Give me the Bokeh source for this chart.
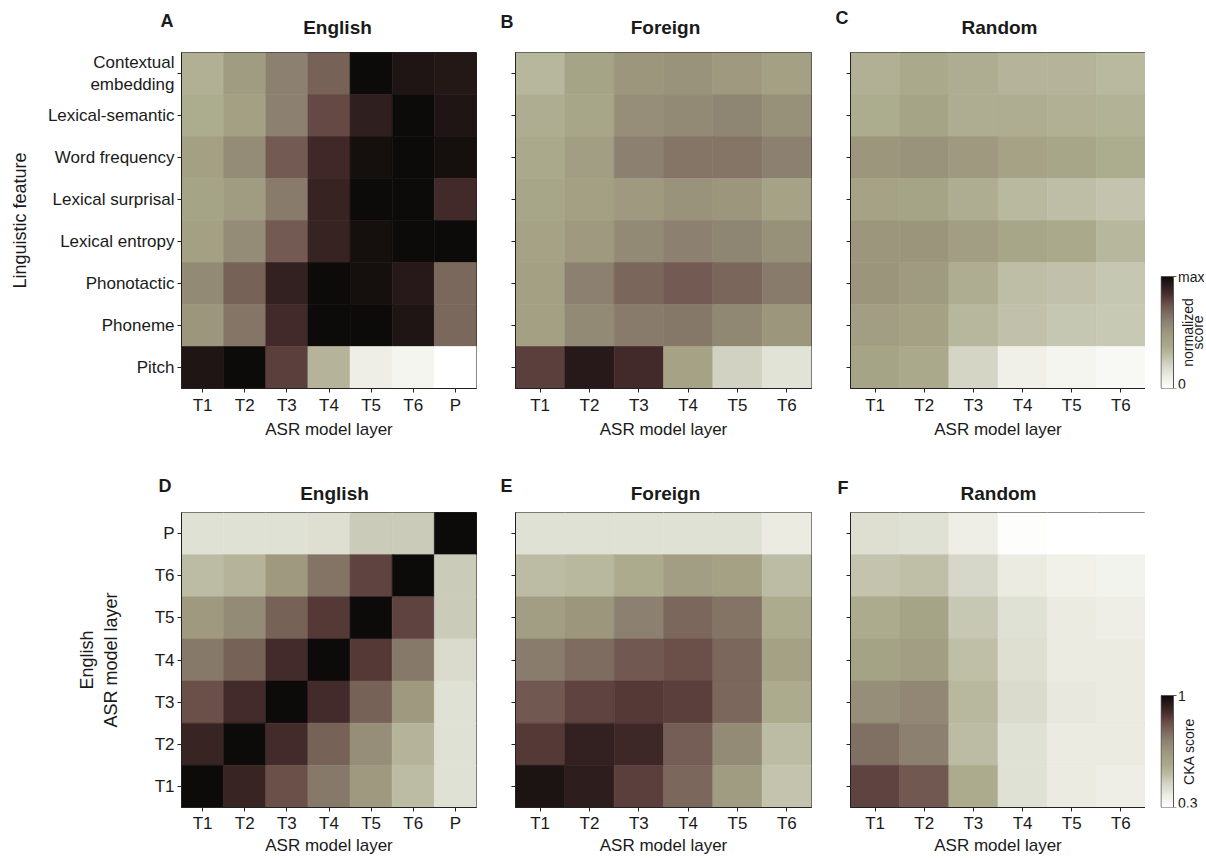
import math
import numpy as np
from bokeh.plotting import figure
from bokeh.layouts import row, column
from bokeh.models import LinearColorMapper, ColumnDataSource, FixedTicker, Range1d
from bokeh.core.properties import value
from bokeh.transform import transform
from bokeh.embed import file_html
from bokeh.resources import INLINE

# ---------------- data ----------------
FEATURES = ["Contextual\nembedding", "Lexical-semantic", "Word frequency", "Lexical surprisal",
            "Lexical entropy", "Phonotactic", "Phoneme", "Pitch"]          # top -> bottom
LAYERS_EN = ["T1", "T2", "T3", "T4", "T5", "T6", "P"]
LAYERS_6 = ["T1", "T2", "T3", "T4", "T5", "T6"]
CKA_ROWS_EN = ["P", "T6", "T5", "T4", "T3", "T2", "T1"]                       # top -> bottom
PANEL_TITLES = ["English", "Foreign", "Random"]
PANEL_LETTERS_TOP = ["A", "B", "C"]
PANEL_LETTERS_BOTTOM = ["D", "E", "F"]

FEAT_ENGLISH = [
    [0.35, 0.47, 0.60, 0.70, 1.00, 0.95, 0.94],
    [0.37, 0.45, 0.60, 0.77, 0.91, 1.00, 0.95],
    [0.45, 0.55, 0.72, 0.87, 0.98, 1.00, 0.98],
    [0.42, 0.47, 0.62, 0.89, 1.00, 1.00, 0.86],
    [0.45, 0.55, 0.72, 0.89, 0.98, 1.00, 1.00],
    [0.56, 0.70, 0.90, 1.00, 0.98, 0.93, 0.68],
    [0.50, 0.64, 0.86, 1.00, 1.00, 0.95, 0.68],
    [0.95, 1.00, 0.80, 0.33, 0.10, 0.06, 0.00],
]
FEAT_FOREIGN = [
    [0.32, 0.42, 0.50, 0.52, 0.49, 0.45],
    [0.36, 0.40, 0.54, 0.56, 0.58, 0.53],
    [0.38, 0.46, 0.60, 0.64, 0.64, 0.60],
    [0.40, 0.45, 0.49, 0.52, 0.50, 0.43],
    [0.43, 0.49, 0.56, 0.60, 0.58, 0.53],
    [0.45, 0.60, 0.69, 0.72, 0.69, 0.62],
    [0.45, 0.56, 0.62, 0.63, 0.57, 0.50],
    [0.80, 0.93, 0.86, 0.43, 0.22, 0.15],
]
FEAT_RANDOM = [
    [0.35, 0.38, 0.36, 0.33, 0.33, 0.31],
    [0.37, 0.42, 0.36, 0.36, 0.35, 0.34],
    [0.50, 0.52, 0.49, 0.43, 0.40, 0.37],
    [0.43, 0.42, 0.36, 0.31, 0.29, 0.27],
    [0.50, 0.51, 0.46, 0.40, 0.38, 0.32],
    [0.51, 0.48, 0.36, 0.29, 0.28, 0.26],
    [0.46, 0.44, 0.32, 0.28, 0.26, 0.25],
    [0.42, 0.38, 0.21, 0.09, 0.06, 0.04],
]
CKA_ENGLISH = [
    [0.41, 0.41, 0.41, 0.42, 0.47, 0.47, 1.00],
    [0.51, 0.53, 0.64, 0.75, 0.85, 1.00, 0.47],
    [0.64, 0.69, 0.79, 0.87, 1.00, 0.85, 0.47],
    [0.74, 0.79, 0.90, 1.00, 0.87, 0.74, 0.43],
    [0.83, 0.90, 1.00, 0.90, 0.79, 0.64, 0.41],
    [0.92, 1.00, 0.90, 0.79, 0.68, 0.53, 0.41],
    [1.00, 0.92, 0.83, 0.74, 0.64, 0.51, 0.41],
]
CKA_FOREIGN = [
    [0.41, 0.41, 0.41, 0.41, 0.41, 0.38],
    [0.51, 0.52, 0.56, 0.62, 0.61, 0.51],
    [0.62, 0.65, 0.72, 0.78, 0.75, 0.56],
    [0.73, 0.77, 0.81, 0.83, 0.78, 0.61],
    [0.81, 0.85, 0.87, 0.86, 0.78, 0.56],
    [0.87, 0.93, 0.91, 0.80, 0.69, 0.51],
    [0.97, 0.94, 0.86, 0.78, 0.63, 0.49],
]
CKA_RANDOM = [
    [0.42, 0.41, 0.37, 0.31, 0.30, 0.30],
    [0.49, 0.50, 0.44, 0.38, 0.36, 0.35],
    [0.56, 0.59, 0.48, 0.41, 0.38, 0.37],
    [0.60, 0.62, 0.50, 0.42, 0.38, 0.38],
    [0.68, 0.70, 0.52, 0.43, 0.39, 0.38],
    [0.76, 0.72, 0.51, 0.41, 0.38, 0.38],
    [0.85, 0.81, 0.56, 0.41, 0.38, 0.37],
]
CB_FEAT_RANGE = (0.0, 1.0)
CB_FEAT_TICK_LABELS = ["0", "max"]
CB_FEAT_TITLE = ["normalized", "score"]
CB_CKA_RANGE = (0.3, 1.0)
CB_CKA_TICK_LABELS = ["0.3", "1"]
CB_CKA_TITLE = ["CKA score"]

# ---------------- colour map ----------------
CMAP_STOPS = [0.0, 0.10, 0.20, 0.30, 0.38, 0.45, 0.52, 0.60, 0.68, 0.76, 0.84, 0.92, 1.0]
CMAP_COLORS = ["#ffffff", "#eeeee6", "#d6d7c8", "#bbbba3", "#aaa98b", "#a3a084", "#9a937b",
               "#8c8170", "#7c695e", "#6a4e48", "#4c3030", "#2c1c1c", "#0d0b0a"]


def build_palette(n=256):
    rgb = np.array([[int(c[i:i + 2], 16) for i in (1, 3, 5)] for c in CMAP_COLORS], float)
    out = []
    for tt in np.linspace(0, 1, n):
        r, g, b = (np.interp(tt, CMAP_STOPS, rgb[:, k]) for k in range(3))
        out.append("#%02x%02x%02x" % (int(round(r)), int(round(g)), int(round(b))))
    return out


PAL = build_palette()
MAP_FEAT = LinearColorMapper(palette=PAL, low=CB_FEAT_RANGE[0], high=CB_FEAT_RANGE[1])
MAP_CKA = LinearColorMapper(palette=PAL, low=CB_CKA_RANGE[0], high=CB_CKA_RANGE[1])

FONT = "Liberation Sans"
TXT = "#1a1a1a"
PAGE_W = 1204

# layout (pixels)
FRAME_L = [181, 515, 850]
FRAME_W = [295, 296, 295]
FH1, FH2 = 336, 295
HDR1_H, HDR2_H = 47, 66
ROW_BT = 5


def heatmap(values, xlabels, ylabels, mapper, *, bl, br, bb, fw, fh, show_ylabels,
            ylabel=None, ylabel_standoff=15, lab_standoff=3, axlab_standoff=2):
    nx, ny = len(xlabels), len(ylabels)
    xs, ys, vs = [], [], []
    for i, rv in enumerate(values):
        for j, v in enumerate(rv):
            xs.append(j)
            ys.append(ny - 1 - i)
            vs.append(v)
    src = ColumnDataSource(dict(x=xs, y=ys, v=vs))
    p = figure(frame_width=fw, frame_height=fh, min_border_left=bl, min_border_top=ROW_BT,
               min_border_right=br, min_border_bottom=bb,
               x_range=Range1d(-0.5, nx - 0.5), y_range=Range1d(-0.5, ny - 0.5),
               output_backend="svg", toolbar_location=None)
    p.rect(x="x", y="y", width=1, height=1, source=src,
           fill_color=transform("v", mapper), line_color=transform("v", mapper), line_width=0.6)
    p.grid.visible = False
    p.outline_line_color = "#222222"
    p.outline_line_width = 1
    p.outline_line_alpha = 1

    for ax in (p.xaxis[0], p.yaxis[0]):
        ax.minor_tick_line_color = None
        ax.major_tick_out = 4
        ax.major_tick_in = 0
        ax.major_tick_line_color = "#222222"
        ax.axis_line_color = "#222222"
        ax.major_label_text_font = FONT
        ax.major_label_text_font_size = "17px"
        ax.major_label_text_color = TXT
        ax.major_label_standoff = lab_standoff
        ax.axis_label_text_font = FONT
        ax.axis_label_text_font_style = "normal"
        ax.axis_label_text_color = TXT

    xa = p.xaxis[0]
    xa.ticker = FixedTicker(ticks=list(range(nx)))
    xa.major_label_overrides = {i: lab for i, lab in enumerate(xlabels)}
    xa.axis_label = "ASR model layer"
    xa.axis_label_text_font_size = "17px"
    xa.axis_label_standoff = axlab_standoff

    ya = p.yaxis[0]
    ya.ticker = FixedTicker(ticks=list(range(ny)))
    ya.major_label_standoff = 3
    if show_ylabels:
        ya.major_label_overrides = {ny - 1 - i: lab for i, lab in enumerate(ylabels)}
        if ylabel:
            ya.axis_label = ylabel
            ya.axis_label_text_font_size = "18px"
            ya.axis_label_standoff = ylabel_standoff
    else:
        ya.major_label_overrides = {i: "" for i in range(ny)}
        ya.major_label_text_font_size = "0px"
    return p


def colorbar(mapper, rng, tick_labels, title_lines, *, fh, bb, bar_h=112, fw=44):
    lo, hi = rng
    top = lo + (hi - lo) * fh / bar_h
    p = figure(frame_width=fw, frame_height=fh, x_range=Range1d(0, fw), y_range=Range1d(lo, top),
               x_axis_location=None, y_axis_location=None,
               min_border_left=PAGE_W - fw - (FRAME_L[2] + FRAME_W[2]), min_border_right=0,
               min_border_top=ROW_BT, min_border_bottom=bb,
               output_backend="svg", toolbar_location=None)
    p.outline_line_color = None
    p.grid.visible = False
    p.background_fill_color = None
    grad = np.linspace(lo, hi, 256).reshape(256, 1)
    p.image(image=[grad], x=0.5, y=lo, dw=12.5, dh=hi - lo, color_mapper=mapper)
    p.rect(x=6.75, y=(lo + hi) / 2, width=12.5, height=hi - lo, fill_color=None,
           line_color="#555555", line_width=1)
    p.segment(x0=[13, 13], y0=[lo, hi], x1=[16, 16], y1=[lo, hi], line_color="#555555")
    p.text(x=[17.5], y=[lo], text=[tick_labels[0]], text_baseline="bottom", text_align="left",
           text_font=value(FONT), text_font_size="14px", text_color=TXT)
    p.text(x=[17.5], y=[hi], text=[tick_labels[1]], text_baseline="middle", text_align="left",
           text_font=value(FONT), text_font_size="14px", text_color=TXT)
    n = len(title_lines)
    mid_x = [27, 37] if n == 2 else [28]
    p.text(x=mid_x, y=[(lo + hi) / 2] * n, text=title_lines, angle=math.pi / 2,
           text_align="center", text_baseline="middle",
           text_font=value(FONT), text_font_size="14px", text_color=TXT)
    return p


def header(height, letters, letter_xy, title_xy):
    p = figure(frame_width=PAGE_W, frame_height=height, x_range=Range1d(0, PAGE_W),
               y_range=Range1d(height, 0), x_axis_location=None, y_axis_location=None,
               min_border_left=0, min_border_right=0, min_border_top=0, min_border_bottom=0,
               output_backend="svg", toolbar_location=None)
    p.outline_line_color = None
    p.grid.visible = False
    p.background_fill_color = None
    p.text(x=[xy[0] for xy in letter_xy], y=[xy[1] for xy in letter_xy], text=letters,
           text_align="left", text_baseline="middle", text_font=value(FONT),
           text_font_size="18px", text_font_style="bold", text_color=TXT)
    p.text(x=[xy[0] for xy in title_xy], y=[xy[1] for xy in title_xy], text=PANEL_TITLES,
           text_align="center", text_baseline="middle", text_font=value(FONT),
           text_font_size="19px", text_font_style="bold", text_color=TXT)
    return p


# ---------------- top row ----------------
hdr1 = header(HDR1_H, PANEL_LETTERS_TOP, [(160, 20), (500, 21), (835, 17)],
              [(337, 27), (665, 27), (999, 27)])
pA = heatmap(FEAT_ENGLISH, LAYERS_EN, FEATURES, MAP_FEAT, bl=FRAME_L[0], br=10, bb=52,
             fw=FRAME_W[0], fh=FH1, show_ylabels=True, ylabel="Linguistic feature",
             ylabel_standoff=15)
pB = heatmap(FEAT_FOREIGN, LAYERS_6, FEATURES, MAP_FEAT, bl=29, br=10, bb=52,
             fw=FRAME_W[1], fh=FH1, show_ylabels=False)
pC = heatmap(FEAT_RANDOM, LAYERS_6, FEATURES, MAP_FEAT, bl=29, br=0, bb=52,
             fw=FRAME_W[2], fh=FH1, show_ylabels=False)
cb1 = colorbar(MAP_FEAT, CB_FEAT_RANGE, CB_FEAT_TICK_LABELS, CB_FEAT_TITLE, fh=FH1, bb=52)

# ---------------- bottom row ----------------
hdr2 = header(HDR2_H, PANEL_LETTERS_BOTTOM, [(158, 44), (500, 44), (837, 46)],
              [(334, 52), (665, 52), (998, 52)])
pD = heatmap(CKA_ENGLISH, LAYERS_EN, CKA_ROWS_EN, MAP_CKA, bl=FRAME_L[0], br=10, bb=44,
             fw=FRAME_W[0], fh=FH2, show_ylabels=True, ylabel="English\nASR model layer",
             ylabel_standoff=31, lab_standoff=2, axlab_standoff=0)
pE = heatmap(CKA_FOREIGN, LAYERS_6, CKA_ROWS_EN, MAP_CKA, bl=29, br=10, bb=44,
             fw=FRAME_W[1], fh=FH2, show_ylabels=False, lab_standoff=2, axlab_standoff=0)
pF = heatmap(CKA_RANDOM, LAYERS_6, CKA_ROWS_EN, MAP_CKA, bl=29, br=0, bb=44,
             fw=FRAME_W[2], fh=FH2, show_ylabels=False, lab_standoff=2, axlab_standoff=0)
cb2 = colorbar(MAP_CKA, CB_CKA_RANGE, CB_CKA_TICK_LABELS, CB_CKA_TITLE, fh=FH2, bb=44)

layout = column(hdr1, row(pA, pB, pC, cb1), hdr2, row(pD, pE, pF, cb2))

with open("out.html", "w") as f:
    f.write(file_html(layout, INLINE))
